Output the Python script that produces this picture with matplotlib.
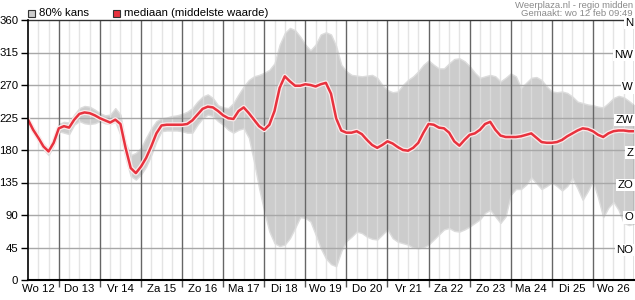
import matplotlib
matplotlib.use("Agg")
import matplotlib.pyplot as plt
import matplotlib.patheffects as pe
from matplotlib.patches import Rectangle
import numpy as np

plt.rcParams['font.family'] = ['Liberation Sans', 'DejaVu Sans']

# time in hours since Wo 12 00:00, every 3 hours
hours = list(range(6, 361, 3))

median = [222, 208, 197, 185, 178, 190, 210, 213, 211, 222, 230, 232, 231, 228, 224, 221,
          218, 222, 216, 183, 155, 148, 157, 169, 185, 203, 214, 215, 215, 215, 215, 216,
          221, 229, 237, 240, 239, 234, 228, 224, 223, 234, 239, 231, 222, 213, 208, 215,
          234, 266, 282, 275, 269, 269, 271, 270, 268, 271, 273, 258, 224, 207, 204, 204,
          206, 202, 194, 187, 183, 187, 192, 189, 184, 180, 179, 183, 190, 204, 216, 215,
          211, 210, 204, 192, 186, 194, 201, 203, 208, 216, 219, 208, 200, 198, 198, 198,
          199, 201, 203, 197, 191, 190, 190, 191, 194, 199, 203, 207, 210, 209, 206, 201,
          198, 203, 206, 207, 207, 206, 206]

upper = [224, 212, 201, 189, 182, 195, 216, 219, 218, 229, 238, 241, 240, 236, 231, 228,
         229, 238, 229, 190, 173, 176, 183, 197, 210, 220, 224, 225, 227, 228, 230, 233,
         238, 247, 254, 257, 252, 242, 239, 238, 245, 257, 268, 277, 282, 284, 287, 291,
         300, 326, 342, 349, 346, 337, 326, 318, 326, 340, 343, 340, 324, 298, 289, 284,
         283, 282, 283, 284, 280, 270, 263, 260, 261, 270, 277, 282, 289, 298, 304, 298,
         293, 293, 300, 306, 307, 303, 296, 287, 280, 282, 284, 282, 275, 280, 286, 282,
         266, 273, 280, 281, 277, 268, 261, 260, 261, 259, 254, 247, 245, 243, 242, 240,
         239, 245, 252, 255, 253, 248, 242]

lower = [219, 205, 193, 181, 173, 186, 206, 204, 202, 215, 220, 217, 216, 217, 220, 217,
         216, 219, 201, 169, 144, 139, 146, 157, 173, 192, 206, 207, 207, 207, 206, 204,
         204, 215, 224, 229, 227, 220, 215, 208, 204, 208, 210, 197, 164, 127, 95, 67,
         51, 47, 49, 58, 72, 87, 86, 81, 63, 44, 30, 22, 19, 40, 54, 60,
         67, 65, 60, 57, 56, 63, 70, 58, 53, 51, 49, 45, 44, 45, 49, 56,
         63, 70, 72, 68, 67, 70, 74, 79, 84, 93, 97, 88, 79, 88, 118, 126,
         126, 132, 142, 134, 126, 130, 135, 130, 124, 130, 141, 127, 111, 123, 137, 114,
         87, 100, 108, 97, 79, 76, 78]

day_labels = ["Wo 12", "Do 13", "Vr 14", "Za 15", "Zo 16", "Ma 17", "Di 18", "Wo 19",
              "Do 20", "Vr 21", "Za 22", "Zo 23", "Ma 24", "Di 25", "Wo 26"]
y_ticks = [0, 45, 90, 135, 180, 225, 270, 315, 360]
compass = ["", "NO", "O", "ZO", "Z", "ZW", "W", "NW", "N"]

FS = 8.2

fig = plt.figure(figsize=(6.35, 3.0), dpi=100)
W, H = 635, 300
ax = fig.add_axes([28 / W, 20 / H, (634 - 28) / W, (280 - 20) / H])
ax.set_xlim(6, 360)
ax.set_ylim(0, 360)

# band
ax.fill_between(hours, lower, upper, facecolor='#cccccc', edgecolor='#dcdcdc', lw=1, zorder=1)

# grid
for h in range(12, 361, 6):
    if h % 24 != 0:
        ax.axvline(h, color='#dedede', lw=1, zorder=2, alpha=0.8)
for yv in y_ticks[1:-1]:
    ax.axhline(yv, color='#a8a8a8', lw=1, zorder=2.1)
for h in range(24, 361, 24):
    ax.axvline(h, color='#666666', lw=1, zorder=2.2)

# median
ax.plot(hours, median, color='#e8323e', lw=1.8, zorder=5, solid_capstyle='round',
        path_effects=[pe.Stroke(linewidth=3.6, foreground='#fbeaea'), pe.Normal()])

# axes styling
ax.spines['right'].set_visible(False)
ax.spines['top'].set_color('#333333')
ax.spines['top'].set_linewidth(1)
ax.spines['left'].set_color('black')
ax.spines['left'].set_linewidth(1.2)
ax.spines['bottom'].set_color('black')
ax.spines['bottom'].set_linewidth(1.5)
ax.spines['left'].set_zorder(6)
ax.spines['bottom'].set_zorder(6)

ax.set_yticks(y_ticks)
ax.set_yticklabels([str(v) for v in y_ticks], fontsize=FS)
ax.tick_params(axis='y', length=5, width=1, color='black', pad=2)

ax.set_xticks(list(range(24, 360, 24)))
ax.set_xticklabels([])
ax.tick_params(axis='x', which='major', length=5, width=1, color='#555555')
ax.set_xticks([12 + 24 * i for i in range(len(day_labels))], minor=True)
ax.set_xticklabels(day_labels, minor=True, fontsize=FS)
ax.tick_params(axis='x', which='minor', length=0, pad=3)

# compass labels on right
for yv, lab in zip(y_ticks, compass):
    if lab:
        ax.annotate(lab, xy=(359.5, yv), xytext=(0, -1.8), textcoords='offset points',
                    ha='right', va='center', fontsize=FS, zorder=7,
                    bbox=dict(boxstyle='square,pad=0.12', facecolor='white', edgecolor='none'))

# legend
fig.patches.append(Rectangle((28 / W, 1 - 17 / H), 7 / W, 7 / H, transform=fig.transFigure,
                             facecolor='#cccccc', edgecolor='#333333', lw=0.8))
fig.text(39 / W, 1 - 13 / H, "80% kans", fontsize=FS, va='center', ha='left')
fig.patches.append(Rectangle((113 / W, 1 - 17 / H), 7 / W, 7 / H, transform=fig.transFigure,
                             facecolor='#e8323e', edgecolor='#333333', lw=0.8))
fig.text(124 / W, 1 - 13 / H, "mediaan (middelste waarde)", fontsize=FS, va='center', ha='left')

fig.text(633 / W, 1 - 5 / H, "Weerplaza.nl - regio midden", fontsize=6.8, color='#8a8a8a',
         ha='right', va='center')
fig.text(633 / W, 1 - 14 / H, "Gemaakt: wo 12 feb 09:49", fontsize=6.8, color='#8a8a8a',
         ha='right', va='center')

fig.savefig("out.png", dpi=100)
